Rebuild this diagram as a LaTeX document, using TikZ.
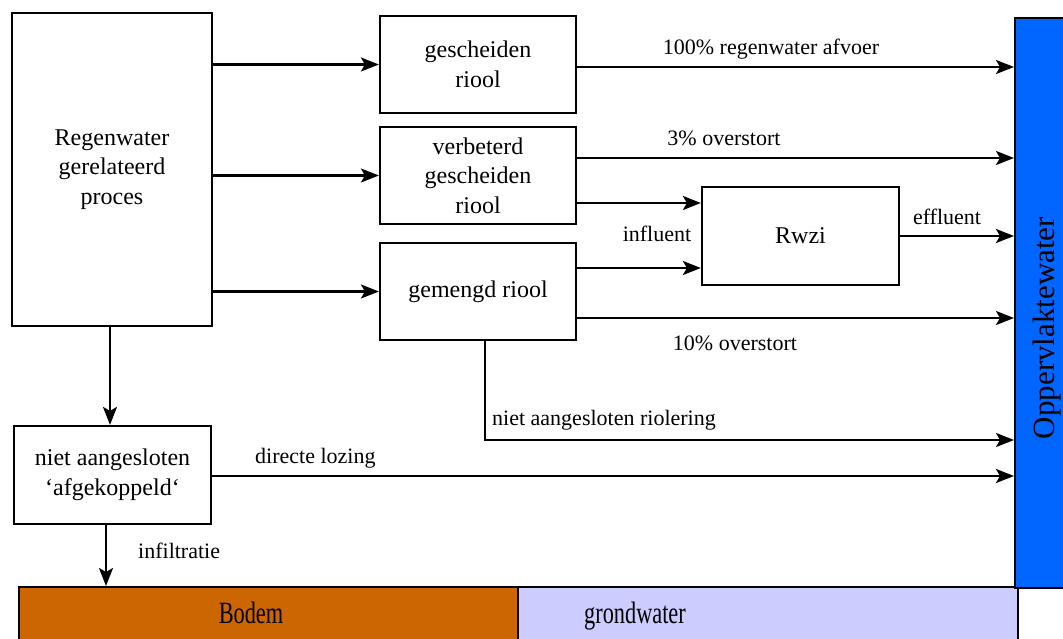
\documentclass[tikz,border=0pt]{standalone}
\usepackage{fontspec}
\setmainfont{Liberation Serif}
\usepackage{graphicx}
\usetikzlibrary{arrows.meta}
\definecolor{bodemcol}{HTML}{CC6600}
\definecolor{grondcol}{HTML}{CCCCFF}
\definecolor{oppcol}{HTML}{0066FF}

\begin{document}
\begin{tikzpicture}[x=1pt,y=-1pt,
  box/.style={draw, line width=2.2pt, align=center, inner sep=0pt,
    font=\fontsize{24}{29.5}\selectfont},
  lbl/.style={inner sep=0pt, anchor=base, font=\fontsize{22}{26}\selectfont},
  layer/.style={draw, line width=2.2pt, inner sep=0pt, anchor=north west},
  big/.style={inner sep=0pt, anchor=base, font=\fontsize{31}{36}\selectfont},
  flow/.style={line width=2.2pt, -{Stealth[length=18pt,width=14pt,inset=4pt]}},
]
\useasboundingbox (0,0) rectangle (1063,639);

% receiving layers
\node[layer, fill=bodemcol, minimum width=499pt, minimum height=80pt] (bodem) at (18,586) {};
\node[layer, fill=grondcol, minimum width=500pt, minimum height=80pt] (grond) at (517,586) {};
\node[layer, fill=oppcol, minimum width=70pt, minimum height=570pt] (opp) at (1014,17) {};
\node[big] (bodemtxt) at (251,623) {\scalebox{0.72}[1]{Bodem}};
\node[big] (grondtxt) at (635,623) {\scalebox{0.72}[1]{grondwater}};
\node[inner sep=0pt, rotate=90, font=\fontsize{31}{36}\selectfont] (opptxt) at (1047,328) {Oppervlaktewater};

% process boxes
\node[box, minimum width=200pt, minimum height=313pt] (reg) at (112,169.5) {Regenwater\\gerelateerd\\proces};
\node[box, minimum width=196pt, minimum height=97pt] (gesch) at (478,64.5) {gescheiden\\riool};
\node[box, minimum width=196pt, minimum height=97pt] (verb) at (478,175.5) {verbeterd\\gescheiden\\riool};
\node[box, minimum width=196pt, minimum height=97pt] (gem) at (478,291.5) {gemengd riool};
\node[box, minimum width=197pt, minimum height=98pt] (rwzi) at (800.5,236) {Rwzi};
\node[box, minimum width=197pt, minimum height=98pt] (niet) at (112.5,475) {niet aangesloten\\‘afgekoppeld‘};

% flows
\draw[flow] (reg.east |- gesch.west) -- (gesch.west);
\draw[flow] (reg.east |- verb.west) -- (verb.west);
\draw[flow] (reg.east |- gem.west) -- (gem.west);
\draw[flow] (reg.south -| 110,0) -- (niet.north -| 110,0);
\draw[flow] (gesch.east |- 0,67) -- (opp.west |- 0,67);
\draw[flow] (verb.east |- 0,158) -- (opp.west |- 0,158);
\draw[flow] (verb.east |- 0,203) -- (rwzi.west |- 0,203);
\draw[flow] (gem.east |- 0,268) -- (rwzi.west |- 0,268);
\draw[flow] (rwzi.east) -- (rwzi.east -| opp.west);
\draw[flow] (gem.east |- 0,318) -- (opp.west |- 0,318);
\draw[flow] (gem.south -| 485,0) |- (opp.west |- 0,440);
\draw[flow] (niet.east |- 0,476) -- (opp.west |- 0,476);
\draw[flow] (niet.south -| 106,0) -- (bodem.north -| 106,0);

% flow labels
\node[lbl] (l100) at (771,55) {100\% regenwater afvoer};
\node[lbl] (l3) at (724,146) {3\% overstort};
\node[lbl] (linf) at (657,242) {influent};
\node[lbl] (leff) at (947,225) {effluent};
\node[lbl] (l10) at (735,350) {10\% overstort};
\node[lbl, anchor=base west] (lnar) at (492,425) {niet aangesloten riolering};
\node[lbl, anchor=base west] (ldir) at (255,463) {directe lozing};
\node[lbl, anchor=base west] (linfil) at (138,558) {infiltratie};
\end{tikzpicture}
\end{document}
